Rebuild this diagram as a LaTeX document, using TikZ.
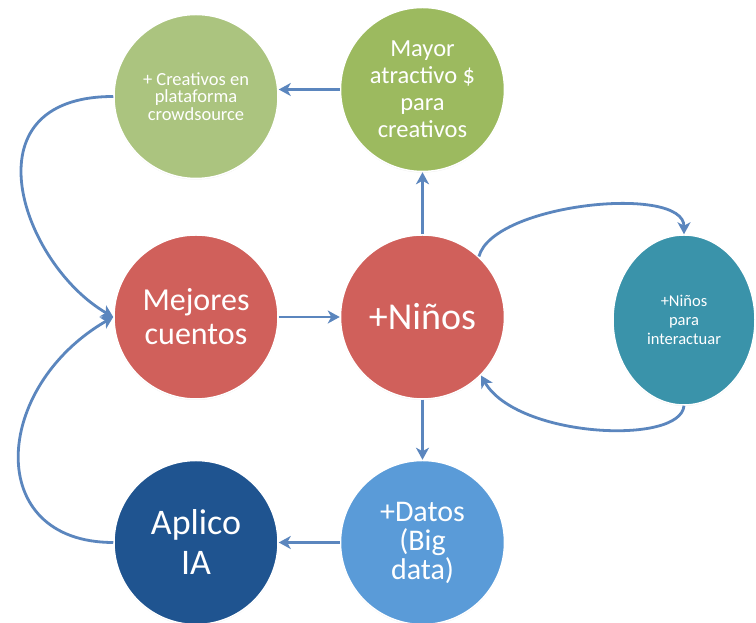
\documentclass[tikz,border=0pt]{standalone}
\usepackage{fontspec}
\setmainfont{Carlito}
\usepackage{tikz}
\usetikzlibrary{positioning, arrows.meta, shapes.geometric, shadows}
\definecolor{ideagreen}{HTML}{ABC47F}
\definecolor{rewardgreen}{HTML}{9CBA5F}
\definecolor{storyred}{HTML}{D0605B}
\definecolor{socialteal}{HTML}{3A93AA}
\definecolor{ainavy}{HTML}{1F5490}
\definecolor{datasky}{HTML}{5A9BD8}
\definecolor{flowblue}{HTML}{5B86BE}

\begin{document}
\begin{tikzpicture}[
    x=1pt, y=1pt,
    ball/.style={
        circle, draw=white, line width=1.5pt, minimum size=164pt, inner sep=0pt,
        align=center, text=white,
        drop shadow={shadow xshift=0pt, shadow yshift=-1pt, opacity=0.15}
    },
    crowdball/.style={ball, fill=ideagreen, font=\fontsize{18.5}{17.5}\selectfont},
    rewardball/.style={ball, fill=rewardgreen, font=\fontsize{24.5}{27}\selectfont},
    storyball/.style={ball, fill=storyred, font=\fontsize{32}{34}\selectfont},
    kidsball/.style={ball, fill=storyred, font=\fontsize{38}{40}\selectfont},
    socialball/.style={
        ball, ellipse, fill=socialteal, minimum width=142pt, minimum height=170pt,
        font=\fontsize{16.5}{19}\selectfont
    },
    aiball/.style={ball, fill=ainavy, font=\fontsize{36}{40}\selectfont},
    databall/.style={ball, fill=datasky, font=\fontsize{30}{29}\selectfont},
    arr/.style={-{Stealth[length=12pt, width=13pt, inset=3.5pt]}, line width=2.8pt, color=flowblue},
]
\path[use as bounding box, fill=white] (0,0) rectangle (756,623);

% Middle row
\node[storyball] (mejores) at (196,306) {Mejores\\cuentos};
\node[kidsball, right=61pt of mejores] (ninos) {+Niños};
\node[socialball, right=107pt of ninos, yshift=-3pt] (inter) {+Niños\\para\\interactuar};

% Top row
\node[crowdball, above=55pt of mejores] (crowd) {+ Creativos en\\plataforma\\crowdsource};
\node[rewardball, above=62pt of ninos] (mayor) {Mayor\\atractivo \$\\para\\creativos};

% Bottom row
\node[aiball, below=60pt of mejores] (aplico) {Aplico\\IA};
\node[databall, below=60pt of ninos] (datos) {+Datos\\(Big\\data)};

% Straight arrows
\draw[arr] (mayor.west) -- (crowd.east |- mayor.west);
\draw[arr] (ninos.north) -- (mayor.south);
\draw[arr] (mejores.east) -- (ninos.west);
\draw[arr] (ninos.south) -- (datos.north);
\draw[arr] (datos.west) -- (aplico.east);

% Feedback curves
\draw[arr] (crowd.west) .. controls +(180:150) and +(150:105) .. (mejores.west);
\draw[arr] (aplico.west) .. controls +(180:130) and +(210:140) .. (mejores.west);
\draw[arr] (ninos.47) .. controls +(75:55) and +(90:50) .. (inter.north);
\draw[arr] (inter.south) .. controls +(-95:40) and +(-60:72) .. (ninos.-45);

\end{tikzpicture}
\end{document}
